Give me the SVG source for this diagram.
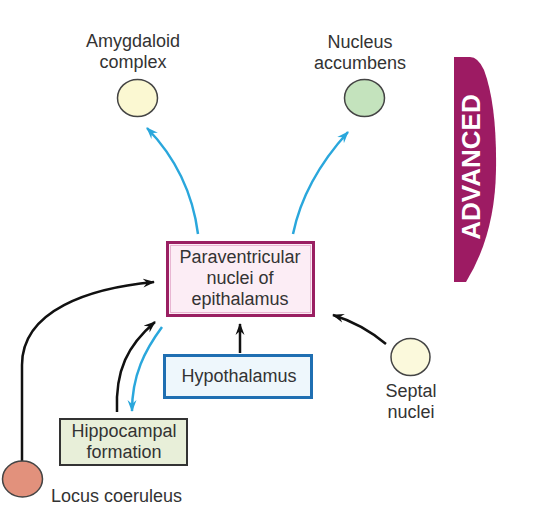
<svg xmlns="http://www.w3.org/2000/svg" width="540" height="518" viewBox="0 0 540 518">
<defs>
<marker id="ab" viewBox="0 0 12 10" refX="11" refY="5" markerWidth="12" markerHeight="10" markerUnits="userSpaceOnUse" orient="auto">
<path d="M0,0.5 L12,5 L0,9.5 L4,5 Z" fill="#111"/>
</marker>
<marker id="ac" viewBox="0 0 12 10" refX="11" refY="5" markerWidth="12" markerHeight="10" markerUnits="userSpaceOnUse" orient="auto">
<path d="M0,0.5 L12,5 L0,9.5 L4,5 Z" fill="#2aa7dc"/>
</marker>
</defs>
<style>
text{font-family:"Liberation Sans",Arial,sans-serif;font-size:18px;fill:#333;}
.c{text-anchor:middle;}
.k{fill:none;stroke:#111;stroke-width:2.5;marker-end:url(#ab);}
.b{fill:none;stroke:#2aa7dc;stroke-width:2.5;marker-end:url(#ac);}
.n{stroke:#444;stroke-width:1.5;}
</style>
<rect width="540" height="518" fill="#fff"/>
<g id="banner">
<path d="M454,57 L470,57 Q478,57 484,70 Q497,105 496,170 Q495,235 466,282 L454,282 Z" fill="#9d1b63"/>
<text transform="translate(480,167) rotate(-90)" class="c" style="font-size:26px;font-weight:bold;fill:#fff">ADVANCED</text>
</g>
<g id="connectors">
<path class="b" d="M198,234 C193,195 176,158 147,128"/>
<path class="b" d="M293,234 C300,200 318,165 348,132"/>
<path class="k" d="M22,461 L22,365 C22,310 90,288 154,282"/>
<path class="k" d="M117,412 C115,370 128,345 155,322"/>
<path class="b" d="M162,327 C145,350 132,375 132,411"/>
<path class="k" d="M240,353 L240,324"/>
<path class="k" d="M386,344 Q362,324 333,315"/>
</g>
<g id="amygdaloid">
<ellipse cx="137.5" cy="98" rx="20" ry="18.5" fill="#fbf8d2" class="n"/>
<text x="133" y="47" class="c">Amygdaloid</text>
<text x="133" y="68" class="c">complex</text>
</g>
<g id="accumbens">
<ellipse cx="364.5" cy="98" rx="20" ry="18.5" fill="#c4e3bd" class="n"/>
<text x="360" y="48" class="c">Nucleus</text>
<text x="360" y="69" class="c">accumbens</text>
</g>
<g id="paraventricular">
<rect x="167.5" y="242.5" width="146" height="73" fill="#fcedf5" stroke="#9a1f62" stroke-width="3"/>
<rect x="170.5" y="245.5" width="140" height="67" fill="none" stroke="#e8b6d2" stroke-width="1"/>
<text x="240" y="263" class="c">Paraventricular</text>
<text x="240" y="284" class="c">nuclei of</text>
<text x="240" y="305" class="c">epithalamus</text>
</g>
<g id="hypothalamus">
<rect x="164.5" y="355.5" width="147" height="42" fill="#eef7fc" stroke="#1f6fb2" stroke-width="3"/>
<text x="239" y="382" class="c">Hypothalamus</text>
</g>
<g id="hippocampal">
<rect x="60" y="419" width="127" height="46" fill="#e8efd9" stroke="#333" stroke-width="2"/>
<text x="124" y="437" class="c">Hippocampal</text>
<text x="124" y="458" class="c">formation</text>
</g>
<g id="septal">
<ellipse cx="410.5" cy="357" rx="19.5" ry="18.5" fill="#fbf9dc" class="n"/>
<text x="411" y="397" class="c">Septal</text>
<text x="411" y="418" class="c">nuclei</text>
</g>
<g id="locus">
<ellipse cx="22.5" cy="479" rx="20" ry="18" fill="#e2917c" class="n"/>
<text x="51" y="502">Locus coeruleus</text>
</g>
</svg>
